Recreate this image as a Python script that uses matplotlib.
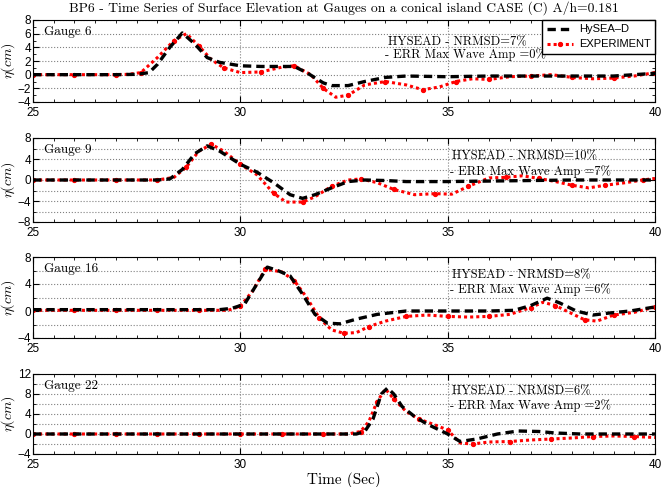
import matplotlib.pyplot as plt
from matplotlib.ticker import MultipleLocator

plt.rcParams['mathtext.fontset'] = 'cm'
plt.rcParams['font.family'] = ['Liberation Sans', 'DejaVu Sans']

# ---- data ----
# Gauge 6
t6_sim = [25, 26, 27, 27.5, 27.8, 28.0, 28.3, 28.6, 28.9, 29.2, 29.5, 30.0, 30.5, 31.0, 31.3, 31.6,
          32.0, 32.2, 32.6, 33.0, 33.5, 34.0, 35, 36, 37, 38, 39, 39.5, 40]
e6_sim = [0, 0, 0, 0.05, 0.3, 1.5, 4.0, 6.1, 4.5, 2.5, 1.8, 1.3, 1.2, 1.2, 1.2, 0.3,
          -1.2, -1.6, -1.6, -1.0, -0.4, -0.2, -0.3, -0.2, -0.2, -0.2, -0.2, 0.0, 0.2]
t6_exp = [25, 25.5, 26, 26.5, 27, 27.3, 27.6, 28.0, 28.4, 28.7, 29.0, 29.3, 29.6, 30.0, 30.5, 31.0,
          31.3, 31.7, 32.0, 32.3, 32.6, 33.0, 33.5, 34.0, 34.4, 34.8, 35.2, 35.6, 36.0, 36.5, 37.0,
          37.5, 38.0, 38.5, 39.0, 39.5, 40]
e6_exp = [0, 0, 0, 0, 0, 0.05, 0.3, 2.5, 5.0, 6.0, 4.2, 2.2, 1.0, 0.3, 0.4, 1.1,
          1.3, 0.0, -2.0, -3.3, -3.0, -1.5, -1.0, -1.5, -2.2, -1.8, -1.0, -0.6, -0.7, -0.3, -0.2,
          0.0, -0.4, -0.6, -0.5, -0.2, 0.3]

# Gauge 9
t9_sim = [25, 26, 27, 28, 28.3, 28.6, 28.9, 29.2, 29.5, 30.0, 30.4, 30.8, 31.2, 31.5, 31.8, 32.2,
          32.6, 33.0, 33.5, 34, 35, 36, 37, 38, 39, 40]
e9_sim = [0, 0, 0, 0, 0.2, 2.0, 5.0, 6.5, 5.5, 3.0, 1.5, -0.5, -2.8, -3.5, -2.8, -1.5,
          -0.3, 0.0, -0.1, -0.3, -0.3, -0.2, -0.1, 0, 0, 0]
t9_exp = [25, 25.5, 26, 26.5, 27, 27.5, 28, 28.4, 28.7, 29.0, 29.3, 29.6, 30.0, 30.4, 30.8, 31.1,
          31.5, 31.8, 32.2, 32.6, 32.9, 33.3, 33.7, 34.2, 34.7, 35.1, 35.5, 36.0, 36.4, 36.8, 37.2,
          37.6, 38.0, 38.4, 38.8, 39.3, 39.7, 40]
e9_exp = [0, 0, 0, 0, 0, 0, 0, 0.5, 2.5, 5.5, 6.8, 5.5, 3.0, 1.0, -2.5, -4.2,
          -4.2, -3.2, -1.2, 0.0, 0.2, -0.5, -1.8, -2.8, -2.6, -2.7, -1.2, 0.4, 0.5, 0.8, 0.3,
          -0.3, -1.0, -1.5, -1.0, -0.5, 0.0, 0.3]

# Gauge 16
t16_sim = [25, 26, 27, 28, 29, 29.5, 29.8, 30.1, 30.4, 30.65, 30.9, 31.2, 31.5, 31.8, 32.1, 32.4,
           32.8, 33.3, 34, 35, 36, 36.6, 37.0, 37.4, 37.7, 38.1, 38.5, 38.9, 39.4, 40]
e16_sim = [0.2, 0.2, 0.2, 0.2, 0.2, 0.2, 0.4, 1.0, 4.0, 6.5, 6.0, 5.2, 2.5, -0.5, -1.8, -1.9,
           -1.2, -0.5, 0.0, 0.0, 0.0, 0.1, 0.8, 1.9, 1.2, 0.0, -0.6, -0.3, 0.0, 0.6]
t16_exp = [25, 25.5, 26, 26.5, 27, 27.5, 28, 28.5, 29, 29.7, 30.0, 30.3, 30.6, 31.0, 31.3, 31.6,
           31.9, 32.2, 32.5, 32.8, 33.1, 33.5, 34.0, 34.5, 35.0, 35.5, 36.0, 36.5, 37.0, 37.3,
           37.6, 38.0, 38.3, 38.6, 39.0, 39.5, 40]
e16_exp = [0.1, 0.1, 0.1, 0.1, 0.1, 0.1, 0.1, 0.1, 0.1, 0.1, 0.7, 3.0, 6.2, 5.8, 4.5, 2.0,
           -1.0, -2.8, -3.3, -3.2, -2.3, -1.5, -0.8, -0.6, -0.8, -0.9, -0.8, -0.5, 0.5, 1.3,
           0.8, -0.4, -1.3, -1.5, -0.6, -0.2, 0.6]

# Gauge 22
t22_sim = [25, 26, 27, 28, 29, 30, 31, 32, 32.8, 33.0, 33.2, 33.4, 33.55, 33.7, 33.9, 34.2,
           34.5, 35.0, 35.3, 35.7, 36.2, 36.7, 37.2, 37.6, 38.2, 39, 40]
e22_sim = [0, 0, 0, 0, 0, 0, 0, 0, 0, 0.5, 3.0, 8.0, 9.2, 8.0, 5.5, 3.5,
           2.0, 0.0, -1.5, -1.0, 0.0, 0.6, 0.5, 0.2, 0, 0, 0]
t22_exp = [25, 25.5, 26, 26.5, 27, 27.5, 28, 28.5, 29, 29.5, 30, 30.5, 31, 31.5, 32, 32.6,
           32.9, 33.1, 33.3, 33.5, 33.7, 34.0, 34.3, 34.7, 35.0, 35.3, 35.6, 36.0, 36.5, 37.0,
           37.5, 38.0, 38.5, 39.0, 39.5, 40]
e22_exp = [0, 0, 0, 0, 0, 0, 0, 0, 0, 0, 0, 0, 0, 0, 0, 0,
           0.5, 2.5, 6.5, 9.0, 7.0, 4.5, 3.0, 1.8, 0.8, -1.8, -2.0, -1.6, -1.5, -1.2,
           -1.0, -0.8, -0.5, -0.4, -0.5, -0.7]

gauges = ['Gauge 6', 'Gauge 9', 'Gauge 16', 'Gauge 22']
nrmsd = ['7%', '10%', '8%', '6%']
err_amp = ['0%', '7%', '6%', '2%']
ylims = [(-4, 8), (-8, 8), (-4, 8), (-4, 12)]
ylab_step = [2, 4, 4, 4]

sims = [(t6_sim, e6_sim), (t9_sim, e9_sim), (t16_sim, e16_sim), (t22_sim, e22_sim)]
exps = [(t6_exp, e6_exp), (t9_exp, e9_exp), (t16_exp, e16_exp), (t22_exp, e22_exp)]

serif = 'cmr10'

fig = plt.figure(figsize=(6.62, 4.87), dpi=100)
tops = [20, 138, 257, 374]
bots = [102, 222, 338, 454]
left, right = 33 / 662, 655 / 662

for i in range(4):
    ax = fig.add_axes([left, 1 - bots[i] / 487, right - left, (bots[i] - tops[i]) / 487])
    ts, es = sims[i]
    te, ee = exps[i]
    ax.plot(te, ee, color='red', ls=(0, (1, 1)), lw=2.2, marker='o', ms=2.8,
            markevery=2, label='EXPERIMENT', zorder=2)
    ax.plot(ts, es, color='black', ls=(0, (2.5, 1.5)), lw=2.4, label='HySEA\u2013D', zorder=3)

    ax.set_xlim(25, 40)
    ax.set_ylim(*ylims[i])
    ax.xaxis.set_major_locator(MultipleLocator(5))
    ax.xaxis.set_minor_locator(MultipleLocator(0.5))
    ax.yaxis.set_major_locator(MultipleLocator(ylab_step[i]))
    ax.yaxis.set_minor_locator(MultipleLocator(2 if ylab_step[i] == 4 else 1))
    ax.tick_params(which='both', direction='in', top=True, right=True, labelsize=8.5)
    ax.tick_params(axis='y', pad=1.5)
    ax.tick_params(axis='x', pad=3.5)
    ax.tick_params(which='major', length=4)
    ax.tick_params(which='minor', length=2.5)
    ax.grid(True, which='major', axis='x', ls=':', color='gray', lw=0.8)
    if ylab_step[i] == 4:
        ax.grid(True, which='both', axis='y', ls=':', color='gray', lw=0.8)
    else:
        ax.grid(True, which='major', axis='y', ls=':', color='gray', lw=0.8)
    ax.set_ylabel(r'$\eta(cm)$', fontsize=10)
    ax.yaxis.set_label_coords(-0.025, 0.5)

    ax.text(0.017, 0.93, gauges[i], transform=ax.transAxes, family=serif,
            fontsize=9.5, va='top', ha='left')
    xt = 0.566 if i == 0 else 0.67
    ax.text(xt + 0.004, 0.73 if i == 0 else 0.78, 'HYSEAD - NRMSD=' + nrmsd[i],
            transform=ax.transAxes, family=serif, fontsize=9, ha='left', va='center')
    ax.text(xt, 0.58 if i == 0 else 0.6, '- ERR Max Wave Amp =' + err_amp[i],
            transform=ax.transAxes, family=serif, fontsize=9, ha='left', va='center')

    if i == 0:
        h, l = ax.get_legend_handles_labels()
        ax.legend(h[::-1], l[::-1], loc='upper right', bbox_to_anchor=(1.0, 1.0),
                  borderaxespad=0, fontsize=8, frameon=True, fancybox=False,
                  edgecolor='black', framealpha=1, borderpad=0.4, labelspacing=0.45,
                  handlelength=2.4, handletextpad=0.5)
        ax.set_title('BP6 - Time Series of Surface Elevation at Gauges on a conical island CASE (C) A/h=0.181',
                     family=serif, fontsize=9.8, pad=6)
    if i == 3:
        ax.set_xlabel('Time (Sec)', family=serif, fontsize=11, labelpad=1)

fig.savefig('out.png', dpi=100)
